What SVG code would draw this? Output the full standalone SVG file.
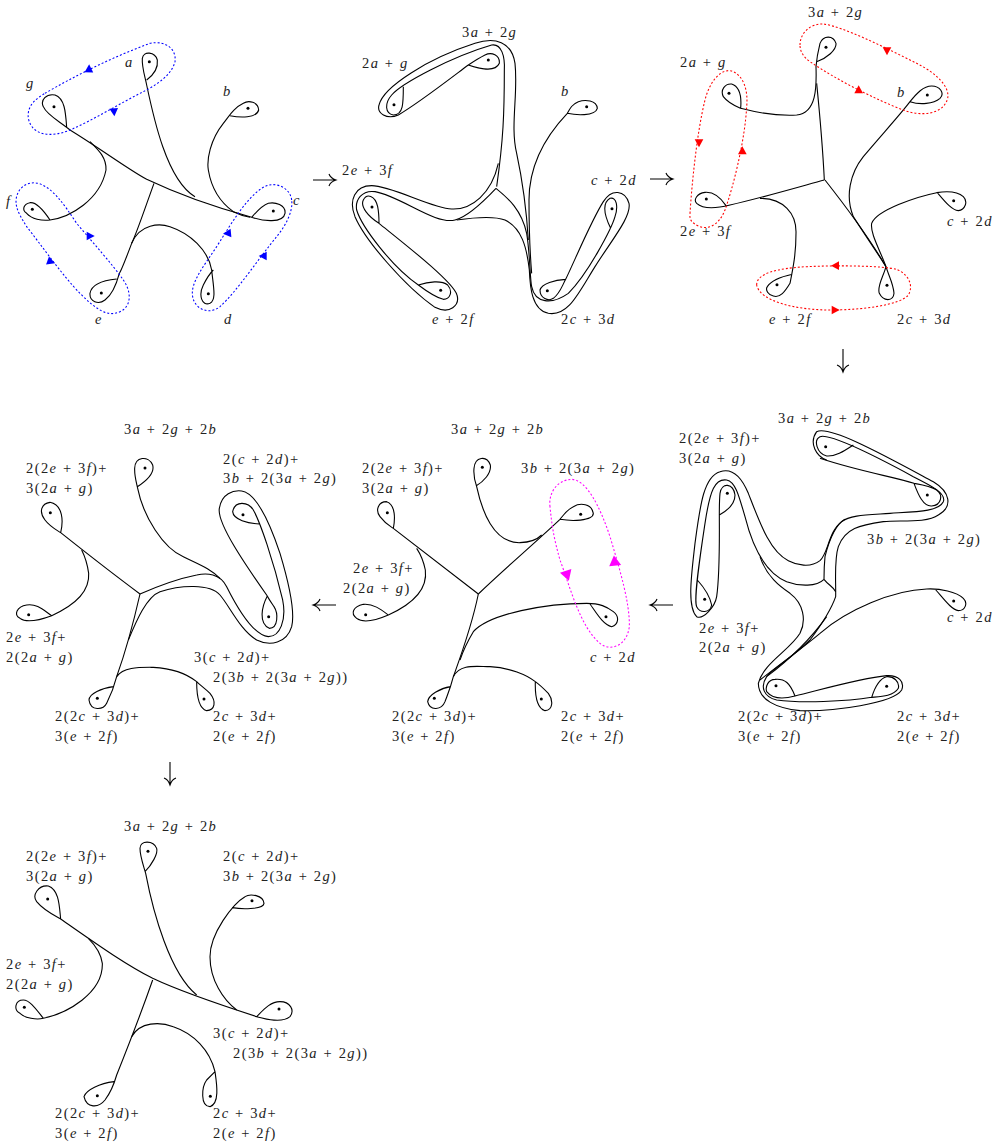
<svg xmlns="http://www.w3.org/2000/svg" width="1001" height="1144" viewBox="0 0 1001 1144">
<style>
text{font-family:"Liberation Serif","DejaVu Serif",serif;font-size:14.5px;letter-spacing:1.4px;word-spacing:.5px;fill:#222}
.i{font-style:italic}
.s path{fill:none;stroke:#000;stroke-width:3.3;stroke-linejoin:round}
.s circle{fill:#000;stroke:none}
.s path.l{stroke-width:3.2;stroke-dasharray:6 6}
.s path.lb{stroke:#00f}.s path.lr{stroke:#f00}.s path.lm{stroke:#f0f}
.bl{fill:#00f}.rd{fill:#f00}.mg{fill:#f0f}
.ar path{fill:none;stroke:#000;stroke-width:1.1}
</style>
<defs>
<polygon id="ah" points="14,0 -10,-13 -10,13"/>
<polygon id="ahb" points="18,0 -13,-18 -13,18"/>
</defs>

<g id="panel1" class="s" transform="translate(0,20) scale(.33333)">
<path d="M200,322C197,280 195,235 165,225C140,220 120,240 130,260C140,285 180,305 210,330C300,385 380,445 440,478C480,497 600,550 750,590C790,605 850,610 855,580C858,555 825,545 805,550C785,557 770,575 755,592"/>
<path d="M440,180C460,165 475,145 472,120C465,95 430,92 427,115C425,140 435,170 440,195C460,290 500,480 585,530"/>
<path d="M690,287C720,293 770,295 776,270C775,245 745,240 730,250C700,265 690,285 670,310C630,360 620,420 625,450C635,510 665,550 700,575C720,585 740,590 750,592"/>
<path d="M150,600C130,570 110,545 90,548C70,552 65,570 80,580C95,597 125,603 150,600C210,592 300,540 318,450C320,410 290,385 270,365"/>
<path d="M462,490C440,550 410,640 395,670C380,710 365,750 358,760C350,790 335,825 315,840C295,855 268,845 270,820C275,790 320,780 350,777"/>
<path d="M395,670C420,610 480,610 510,620C570,640 625,690 635,750C640,800 650,840 630,850C605,860 595,825 610,795C620,775 630,760 640,750"/>
<circle cx="448" cy="125" r="4.5"/><circle cx="744" cy="265" r="4.5"/><circle cx="162" cy="260" r="4.5"/><circle cx="97" cy="568" r="4.5"/><circle cx="820" cy="573" r="4.5"/><circle cx="304" cy="819" r="4.5"/><circle cx="625" cy="821" r="4.5"/>
<path class="l lb" d="M135,220C220,170 340,110 450,70C500,60 530,90 525,125C515,165 470,195 430,215C360,250 280,300 210,330C150,355 95,345 85,295C80,255 110,235 135,220Z"/>
<path class="l lb" d="M50,560C40,520 70,480 115,490C160,505 190,550 230,610C280,670 335,730 370,780C395,815 395,860 360,875C320,895 280,860 240,820C190,770 120,670 80,620C65,595 55,580 50,560Z"/>
<path class="l lb" d="M875,540C870,500 820,480 785,505C740,535 700,600 650,680C610,740 570,790 578,830C585,870 630,885 660,860C710,815 780,710 830,650C855,620 880,575 875,540Z"/>
<use href="#ah" class="bl" transform="translate(267,147) rotate(-88)"/>
<use href="#ah" class="bl" transform="translate(342,275) rotate(85)"/>
<use href="#ah" class="bl" transform="translate(270,648) rotate(0)"/>
<use href="#ah" class="bl" transform="translate(152,725) rotate(20)"/>
<use href="#ah" class="bl" transform="translate(683,640) rotate(175)"/>
<use href="#ah" class="bl" transform="translate(790,708) rotate(180)"/>
</g>

<g id="panel2" class="s" transform="translate(335,20) scale(.33333)">
<path d="M400,135C430,145 480,160 493,130C495,105 470,95 450,105C430,115 415,125 400,135C340,180 250,250 190,285C155,300 125,280 132,255C145,200 280,115 420,70C480,50 530,65 540,130C550,220 525,320 545,400C560,470 575,580 580,660"/>
<path d="M205,200C205,250 205,285 175,285C150,280 148,250 170,225C200,190 350,110 470,75C500,70 510,110 508,150C508,280 505,360 485,500"/>
<path d="M490,430C470,520 410,570 350,567C290,565 170,497 110,497C60,497 40,540 60,590C90,660 210,800 300,862C345,885 375,855 366,825C355,785 200,665 132,610C100,590 75,560 85,540C95,520 120,525 128,560C132,580 132,595 132,610"/>
<path d="M483,505C450,540 400,590 360,600C300,615 200,530 120,515C80,510 60,540 65,570C80,620 170,740 250,795C280,785 320,780 338,795C355,815 345,838 325,838C300,832 270,810 250,795"/>
<path d="M483,505C520,535 560,570 575,640C585,700 585,780 590,800C600,850 650,855 700,820C760,760 830,625 840,590C850,560 845,530 825,535C800,550 810,590 827,625"/>
<path d="M365,600C400,595 470,585 510,600C560,625 575,680 583,750C585,800 590,870 640,880C700,890 730,820 780,740C830,660 890,590 882,550C870,510 830,505 805,545C770,600 720,720 692,778C680,800 675,820 655,835C640,845 615,835 615,810C620,790 660,780 692,778"/>
<path d="M697,280C720,285 780,290 787,265C785,240 750,238 730,245C712,252 705,265 697,280C640,340 582,430 582,540C582,620 585,700 590,760"/>
<circle cx="460" cy="120" r="4.5"/><circle cx="177" cy="254" r="4.5"/><circle cx="755" cy="260" r="4.5"/><circle cx="111" cy="561" r="4.5"/><circle cx="831" cy="566" r="4.5"/><circle cx="317" cy="811" r="4.5"/><circle cx="637" cy="812" r="4.5"/>
</g>

<g id="panel3" class="s" transform="translate(650,0) scale(.33333)">
<path d="M500,185C530,175 560,150 558,130C550,105 520,105 510,130C505,150 500,175 498,200C500,260 500,340 440,345C380,348 310,335 272,325C275,290 270,260 245,252C225,250 210,270 220,290C235,310 255,318 272,325"/>
<path d="M500,250C510,350 520,480 523,540"/>
<path d="M523,540C450,560 330,595 240,615C200,625 160,628 140,610C130,600 140,580 165,577C190,575 210,590 228,617"/>
<path d="M330,595C400,595 440,640 438,700C438,760 430,800 420,850C405,875 390,895 370,888C355,885 345,870 352,860C365,840 395,830 427,823"/>
<path d="M525,540C580,610 650,700 708,800C715,825 730,850 732,880C730,905 700,905 688,880C680,860 700,830 708,800"/>
<path d="M780,305C810,315 850,312 870,295C885,280 870,258 845,258C820,258 800,280 780,305C750,345 690,410 640,470C600,520 585,590 610,650C635,690 670,740 708,800"/>
<path d="M862,578C885,605 905,630 925,632C945,630 955,605 940,590C920,572 880,575 860,578C800,590 680,630 665,670C660,700 690,750 708,800"/>
<circle cx="528" cy="142" r="4.5"/><circle cx="237" cy="280" r="4.5"/><circle cx="832" cy="285" r="4.5"/><circle cx="169" cy="597" r="4.5"/><circle cx="911" cy="602" r="4.5"/><circle cx="381" cy="854" r="4.5"/><circle cx="711" cy="856" r="4.5"/>
<path class="l lr" d="M450,135C450,100 480,70 520,72C580,80 700,140 800,190C860,220 900,260 893,295C880,345 810,350 760,330C680,300 560,240 480,185C460,170 450,155 450,135Z"/>
<path class="l lr" d="M120,640C125,560 140,400 165,300C180,240 215,205 245,213C280,225 295,270 290,320C285,420 250,560 225,630C205,680 170,690 145,678C125,668 118,660 120,640Z"/>
<path class="l lr" d="M320,855C320,820 380,805 470,800C580,795 700,798 740,808C780,825 790,860 775,885C750,915 640,930 540,930C440,930 330,905 320,855Z"/>
<use href="#ah" class="rd" transform="translate(711,152) rotate(90)"/>
<use href="#ah" class="rd" transform="translate(626,270) rotate(-90)"/>
<use href="#ah" class="rd" transform="translate(147,428) rotate(90)"/>
<use href="#ah" class="rd" transform="translate(277,453) rotate(-90)"/>
<use href="#ah" class="rd" transform="translate(557,797) rotate(180)"/>
<use href="#ah" class="rd" transform="translate(555,930) rotate(0)"/>
</g>

<g id="panel4" class="s" transform="translate(660,400) scale(.33333)">
<path d="M580,135C550,155 525,170 500,168C470,160 460,120 480,110C510,100 640,165 760,230C810,255 860,280 850,305C835,335 770,335 690,340C620,345 570,345 545,365C505,395 505,460 480,482C450,505 410,495 385,482C330,455 300,370 265,280C240,220 210,205 180,215C130,230 120,320 105,430C95,520 80,620 110,650C130,660 165,620 170,590C180,520 178,400 178,345C205,330 225,310 225,285C220,250 185,245 180,280C178,300 178,320 178,345"/>
<path d="M480,175C600,215 700,230 762,250C775,285 790,320 815,318C845,315 850,285 830,270C810,258 790,255 762,250"/>
<path d="M555,358C525,375 505,430 495,470C492,500 492,520 492,538"/>
<path d="M500,180C470,170 445,130 470,95C510,75 680,170 820,245C870,275 880,320 835,345C800,370 720,360 670,365C600,375 555,385 535,440C522,480 528,540 527,590C515,625 480,680 450,720C400,770 320,820 320,830"/>
<path d="M492,538C505,555 520,560 527,575"/>
<path d="M492,538C470,560 420,560 380,545C320,520 280,450 255,350C235,280 225,245 200,240C165,235 150,270 135,370C120,470 100,600 110,620C120,640 150,640 155,615C150,590 130,560 112,540"/>
<path d="M300,470C320,530 360,560 390,580C430,610 440,660 420,700C390,750 310,790 295,850C295,900 350,925 420,932C520,935 700,910 725,870C735,845 715,825 680,827C600,835 480,870 405,888C390,850 375,835 345,838C325,838 315,860 320,875C340,900 380,895 405,888"/>
<path d="M635,892C645,860 660,835 680,830C700,828 720,845 715,865C700,890 660,890 635,892C560,905 420,910 350,900C310,890 300,860 320,830C380,785 450,720 500,650"/>
<path d="M825,567C850,595 875,630 895,632C915,632 925,610 910,595C890,575 840,565 800,567C700,570 560,630 480,700C420,750 350,800 300,840"/>
<circle cx="497" cy="140" r="4.5"/><circle cx="802" cy="285" r="4.5"/><circle cx="202" cy="280" r="4.5"/><circle cx="134" cy="598" r="4.5"/><circle cx="881" cy="603" r="4.5"/><circle cx="348" cy="857" r="4.5"/><circle cx="680" cy="859" r="4.5"/>
</g>

<g id="panel5" class="s" transform="translate(340,410) scale(.33333)">
<path d="M408,228C430,215 455,190 451,165C440,135 405,140 402,175C400,195 405,215 410,230C425,300 460,400 540,398C570,397 590,390 605,375"/>
<path d="M660,328C690,333 760,335 760,310C755,280 720,278 700,290C680,300 670,315 660,328C600,385 490,480 415,552"/>
<path d="M160,355C165,330 168,285 140,275C115,275 105,300 120,320C135,340 145,345 160,355C250,425 340,495 415,552"/>
<path d="M145,615C125,600 100,580 70,583C40,590 30,610 50,625C70,640 110,630 145,615C200,590 265,550 256,480C250,450 240,430 230,415"/>
<path d="M415,552C395,650 365,730 340,800C330,840 320,860 315,875C305,900 270,905 263,875C265,855 300,835 332,830"/>
<path d="M750,582C770,610 790,645 815,650C835,645 840,620 820,605C800,590 780,580 740,580C620,580 450,610 400,665C385,690 370,720 360,750"/>
<path d="M340,800C360,760 410,770 450,770C510,773 560,795 586,815C585,850 590,895 615,902C640,900 640,870 625,850C610,835 600,825 586,815"/>
<circle cx="427" cy="172" r="4.5"/><circle cx="722" cy="313" r="4.5"/><circle cx="142" cy="308" r="4.5"/><circle cx="77" cy="614" r="4.5"/><circle cx="798" cy="620" r="4.5"/><circle cx="283" cy="865" r="4.5"/><circle cx="604" cy="867" r="4.5"/>
<path class="l lm" d="M630,290C625,250 650,210 695,208C740,210 780,290 810,380C840,480 870,580 868,650C860,710 810,725 780,700C720,650 690,530 660,450C640,380 635,340 630,290Z"/>
<use href="#ahb" class="mg" transform="translate(681,495) rotate(72)"/>
<use href="#ahb" class="mg" transform="translate(824,454) rotate(-97)"/>
</g>

<g id="panel6" class="s" transform="translate(0,410) scale(.33333)">
<path d="M412,230C435,215 465,190 458,165C445,135 405,140 404,175C403,200 410,220 413,235C430,320 490,415 550,440C600,465 630,475 660,505"/>
<path d="M182,368C190,335 190,285 150,277C125,280 115,305 135,330C150,350 170,360 182,368C260,430 350,500 420,552"/>
<path d="M155,617C130,600 110,580 80,585C50,590 40,615 60,625C80,640 120,630 155,617C215,590 270,550 266,490C262,460 255,440 245,420"/>
<path d="M802,558C740,470 650,340 658,295C665,250 700,240 725,243C770,250 810,340 840,430C870,530 885,610 875,650C860,700 810,710 770,690C720,660 690,590 660,555C630,520 540,525 480,545C440,560 410,630 385,690"/>
<path d="M778,342C745,340 700,330 698,305C705,270 745,275 760,300C780,335 820,450 848,570C860,630 840,680 805,680C760,675 715,600 680,530C660,490 620,488 590,495C540,505 470,530 420,552"/>
<path d="M802,558C785,590 775,640 808,655C835,655 835,610 822,590C812,575 805,565 802,558"/>
<path d="M420,552C400,640 375,730 350,800C340,840 330,860 320,880C310,900 272,905 267,870C268,850 305,835 340,830"/>
<path d="M350,800C370,770 420,772 460,772C520,775 565,795 590,815C590,850 595,895 620,902C645,900 650,875 630,850C615,835 600,825 590,815"/>
<circle cx="435" cy="174" r="4.5"/><circle cx="729" cy="314" r="4.5"/><circle cx="151" cy="308" r="4.5"/><circle cx="86" cy="614" r="4.5"/><circle cx="806" cy="620" r="4.5"/><circle cx="292" cy="865" r="4.5"/><circle cx="612" cy="867" r="4.5"/>
</g>

<g id="panel7" class="s" transform="translate(0,810) scale(.33333)">
<path d="M435,185C455,165 475,130 470,115C460,90 420,90 420,115C420,140 430,165 437,190C460,310 510,490 590,555"/>
<path d="M182,327C178,290 178,240 145,228C115,225 95,255 110,275C130,300 160,315 182,327C280,395 370,460 458,505C500,525 600,565 770,620C800,628 845,640 870,620C885,600 870,575 840,575C810,575 790,600 770,620"/>
<path d="M697,293C720,297 790,300 792,280C790,255 750,250 735,260C700,280 630,370 630,440C630,510 670,570 710,600"/>
<path d="M130,625C110,600 90,570 70,570C45,570 40,600 60,610C75,625 110,630 130,625C200,610 310,550 307,460C303,430 285,405 265,385"/>
<path d="M458,510C430,590 380,720 350,795C340,830 330,850 315,870C295,895 260,895 252,860C258,840 300,820 342,815"/>
<path d="M395,680C420,635 480,635 520,650C580,670 630,720 645,785C650,820 660,880 630,890C600,890 605,830 620,810C630,800 640,790 645,785"/>
<circle cx="444" cy="124" r="4.5"/><circle cx="756" cy="272" r="4.5"/><circle cx="143" cy="267" r="4.5"/><circle cx="73" cy="592" r="4.5"/><circle cx="837" cy="597" r="4.5"/><circle cx="292" cy="857" r="4.5"/><circle cx="631" cy="859" r="4.5"/>
</g>

<g id="arrows" class="ar">
<path d="M313,180H335M329,174C330,177 333,179 336,180C333,181 330,183 329,186"/>
<path d="M650,179H672M666,173C667,176 670,178 673,179C670,180 667,182 666,185"/>
<path d="M843,349V371M837,365C840,366 842,369 843,372C844,369 846,366 849,365"/>
<path d="M673,605H651M657,599C656,602 653,604 650,605C653,606 656,608 657,611"/>
<path d="M336,605H314M320,599C319,602 316,604 313,605C316,606 319,608 320,611"/>
<path d="M170,762V784M164,778C167,779 169,782 170,785C171,782 173,779 176,778"/>
</g>

<g id="labels">
<text x="125" y="67" class="i">a</text><text x="26" y="88" class="i">g</text><text x="223" y="96" class="i">b</text><text x="6" y="206" class="i">f</text><text x="293" y="205" class="i">c</text><text x="95" y="324" class="i">e</text><text x="224" y="324" class="i">d</text>

<text x="462" y="37">3<tspan class="i">a</tspan> + 2<tspan class="i">g</tspan></text>
<text x="362" y="68">2<tspan class="i">a</tspan> + <tspan class="i">g</tspan></text>
<text x="561" y="96" class="i">b</text>
<text x="342" y="175">2<tspan class="i">e</tspan> + 3<tspan class="i">f</tspan></text>
<text x="591" y="185"><tspan class="i">c</tspan> + 2<tspan class="i">d</tspan></text>
<text x="432" y="324"><tspan class="i">e</tspan> + 2<tspan class="i">f</tspan></text>
<text x="561" y="324">2<tspan class="i">c</tspan> + 3<tspan class="i">d</tspan></text>

<text x="808" y="17">3<tspan class="i">a</tspan> + 2<tspan class="i">g</tspan></text>
<text x="680" y="67">2<tspan class="i">a</tspan> + <tspan class="i">g</tspan></text>
<text x="897" y="97" class="i">b</text>
<text x="680" y="236">2<tspan class="i">e</tspan> + 3<tspan class="i">f</tspan></text>
<text x="947" y="226"><tspan class="i">c</tspan> + 2<tspan class="i">d</tspan></text>
<text x="769" y="324"><tspan class="i">e</tspan> + 2<tspan class="i">f</tspan></text>
<text x="897" y="324">2<tspan class="i">c</tspan> + 3<tspan class="i">d</tspan></text>

<text x="778" y="423">3<tspan class="i">a</tspan> + 2<tspan class="i">g</tspan> + 2<tspan class="i">b</tspan></text>
<text x="679" y="443">2(2<tspan class="i">e</tspan> + 3<tspan class="i">f</tspan>)+</text>
<text x="679" y="463">3(2<tspan class="i">a</tspan> + <tspan class="i">g</tspan>)</text>
<text x="867" y="544">3<tspan class="i">b</tspan> + 2(3<tspan class="i">a</tspan> + 2<tspan class="i">g</tspan>)</text>
<text x="947" y="622"><tspan class="i">c</tspan> + 2<tspan class="i">d</tspan></text>
<text x="699" y="633">2<tspan class="i">e</tspan> + 3<tspan class="i">f</tspan>+</text>
<text x="699" y="652">2(2<tspan class="i">a</tspan> + <tspan class="i">g</tspan>)</text>
<text x="738" y="721">2(2<tspan class="i">c</tspan> + 3<tspan class="i">d</tspan>)+</text>
<text x="738" y="741">3(<tspan class="i">e</tspan> + 2<tspan class="i">f</tspan>)</text>
<text x="897" y="721">2<tspan class="i">c</tspan> + 3<tspan class="i">d</tspan>+</text>
<text x="897" y="741">2(<tspan class="i">e</tspan> + 2<tspan class="i">f</tspan>)</text>

<text x="451" y="434">3<tspan class="i">a</tspan> + 2<tspan class="i">g</tspan> + 2<tspan class="i">b</tspan></text>
<text x="362" y="473">2(2<tspan class="i">e</tspan> + 3<tspan class="i">f</tspan>)+</text>
<text x="362" y="493">3(2<tspan class="i">a</tspan> + <tspan class="i">g</tspan>)</text>
<text x="521" y="473">3<tspan class="i">b</tspan> + 2(3<tspan class="i">a</tspan> + 2<tspan class="i">g</tspan>)</text>
<text x="353" y="573">2<tspan class="i">e</tspan> + 3<tspan class="i">f</tspan>+</text>
<text x="343" y="593">2(2<tspan class="i">a</tspan> + <tspan class="i">g</tspan>)</text>
<text x="590" y="662"><tspan class="i">c</tspan> + 2<tspan class="i">d</tspan></text>
<text x="392" y="721">2(2<tspan class="i">c</tspan> + 3<tspan class="i">d</tspan>)+</text>
<text x="392" y="741">3(<tspan class="i">e</tspan> + 2<tspan class="i">f</tspan>)</text>
<text x="561" y="721">2<tspan class="i">c</tspan> + 3<tspan class="i">d</tspan>+</text>
<text x="561" y="741">2(<tspan class="i">e</tspan> + 2<tspan class="i">f</tspan>)</text>

<text x="124" y="434">3<tspan class="i">a</tspan> + 2<tspan class="i">g</tspan> + 2<tspan class="i">b</tspan></text>
<text x="26" y="473">2(2<tspan class="i">e</tspan> + 3<tspan class="i">f</tspan>)+</text>
<text x="26" y="493">3(2<tspan class="i">a</tspan> + <tspan class="i">g</tspan>)</text>
<text x="223" y="464">2(<tspan class="i">c</tspan> + 2<tspan class="i">d</tspan>)+</text>
<text x="223" y="483">3<tspan class="i">b</tspan> + 2(3<tspan class="i">a</tspan> + 2<tspan class="i">g</tspan>)</text>
<text x="6" y="642">2<tspan class="i">e</tspan> + 3<tspan class="i">f</tspan>+</text>
<text x="6" y="662">2(2<tspan class="i">a</tspan> + <tspan class="i">g</tspan>)</text>
<text x="194" y="662">3(<tspan class="i">c</tspan> + 2<tspan class="i">d</tspan>)+</text>
<text x="213" y="682">2(3<tspan class="i">b</tspan> + 2(3<tspan class="i">a</tspan> + 2<tspan class="i">g</tspan>))</text>
<text x="55" y="721">2(2<tspan class="i">c</tspan> + 3<tspan class="i">d</tspan>)+</text>
<text x="55" y="741">3(<tspan class="i">e</tspan> + 2<tspan class="i">f</tspan>)</text>
<text x="213" y="721">2<tspan class="i">c</tspan> + 3<tspan class="i">d</tspan>+</text>
<text x="213" y="741">2(<tspan class="i">e</tspan> + 2<tspan class="i">f</tspan>)</text>

<text x="124" y="831">3<tspan class="i">a</tspan> + 2<tspan class="i">g</tspan> + 2<tspan class="i">b</tspan></text>
<text x="26" y="861">2(2<tspan class="i">e</tspan> + 3<tspan class="i">f</tspan>)+</text>
<text x="26" y="881">3(2<tspan class="i">a</tspan> + <tspan class="i">g</tspan>)</text>
<text x="223" y="861">2(<tspan class="i">c</tspan> + 2<tspan class="i">d</tspan>)+</text>
<text x="223" y="881">3<tspan class="i">b</tspan> + 2(3<tspan class="i">a</tspan> + 2<tspan class="i">g</tspan>)</text>
<text x="6" y="969">2<tspan class="i">e</tspan> + 3<tspan class="i">f</tspan>+</text>
<text x="6" y="989">2(2<tspan class="i">a</tspan> + <tspan class="i">g</tspan>)</text>
<text x="213" y="1038">3(<tspan class="i">c</tspan> + 2<tspan class="i">d</tspan>)+</text>
<text x="233" y="1058">2(3<tspan class="i">b</tspan> + 2(3<tspan class="i">a</tspan> + 2<tspan class="i">g</tspan>))</text>
<text x="55" y="1118">2(2<tspan class="i">c</tspan> + 3<tspan class="i">d</tspan>)+</text>
<text x="55" y="1138">3(<tspan class="i">e</tspan> + 2<tspan class="i">f</tspan>)</text>
<text x="213" y="1118">2<tspan class="i">c</tspan> + 3<tspan class="i">d</tspan>+</text>
<text x="213" y="1138">2(<tspan class="i">e</tspan> + 2<tspan class="i">f</tspan>)</text>
</g>
</svg>
